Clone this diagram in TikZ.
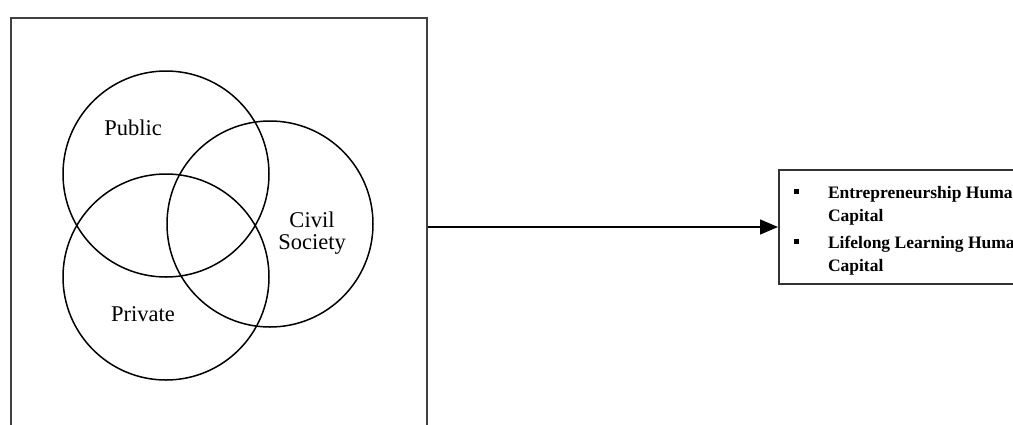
\documentclass[tikz,border=0pt]{standalone}
\usepackage{fontspec}
\setmainfont{Liberation Serif}
\usetikzlibrary{arrows.meta,positioning}

\begin{document}
\begin{tikzpicture}[
      x=1pt, y=-1pt,
      frame/.style={rectangle, draw=black!75, line width=2pt, inner sep=0pt},
      ring/.style={circle, draw=black, line width=1.5pt, minimum size=206pt, inner sep=0pt},
      lbl/.style={align=center, font=\fontsize{22.5pt}{22pt}\selectfont},
      outbox/.style={
        rectangle, draw=black!80, line width=2pt, anchor=west,
        minimum height=114pt, inner xsep=15pt, inner ysep=0pt,
        font=\fontsize{17.5pt}{23pt}\selectfont\bfseries
      },
      flowarr/.style={-{Triangle[length=18pt, width=15pt]}, draw=black, line width=1.5pt}
    ]
      \useasboundingbox (0,0) rectangle (1013,424);
      \clip (0,0) rectangle (1013,424);

      \node[frame, minimum width=416pt, minimum height=430pt, anchor=north west] (sect) at (10,17) {};

      % three sectors
      \node[ring] (pub) at (166,174) {};
      \node[ring] (civ) at (270,224) {};
      \node[ring] (priv) at (166,277) {};
      \node[lbl] (publbl) at (133,128) {Public};
      \node[lbl] (civlbl) at (312,233) {Civil\\Society};
      \node[lbl] (privlbl) at (143,314) {Private};

      \node[outbox] (out) at (778,227) {%
        \raisebox{-3pt}[\height][\depth]{%
        \begin{tabular}{@{}l@{\hspace{29pt}}l@{}}
          \rule[4pt]{5pt}{5pt} & Entrepreneurship Human\\
                               & Capital\\[4pt]
          \rule[4pt]{5pt}{5pt} & Lifelong Learning Human\\
                               & Capital
        \end{tabular}}};

      \draw[flowarr] (sect.east |- out.west) -- (out.west);
    \end{tikzpicture}
\end{document}
